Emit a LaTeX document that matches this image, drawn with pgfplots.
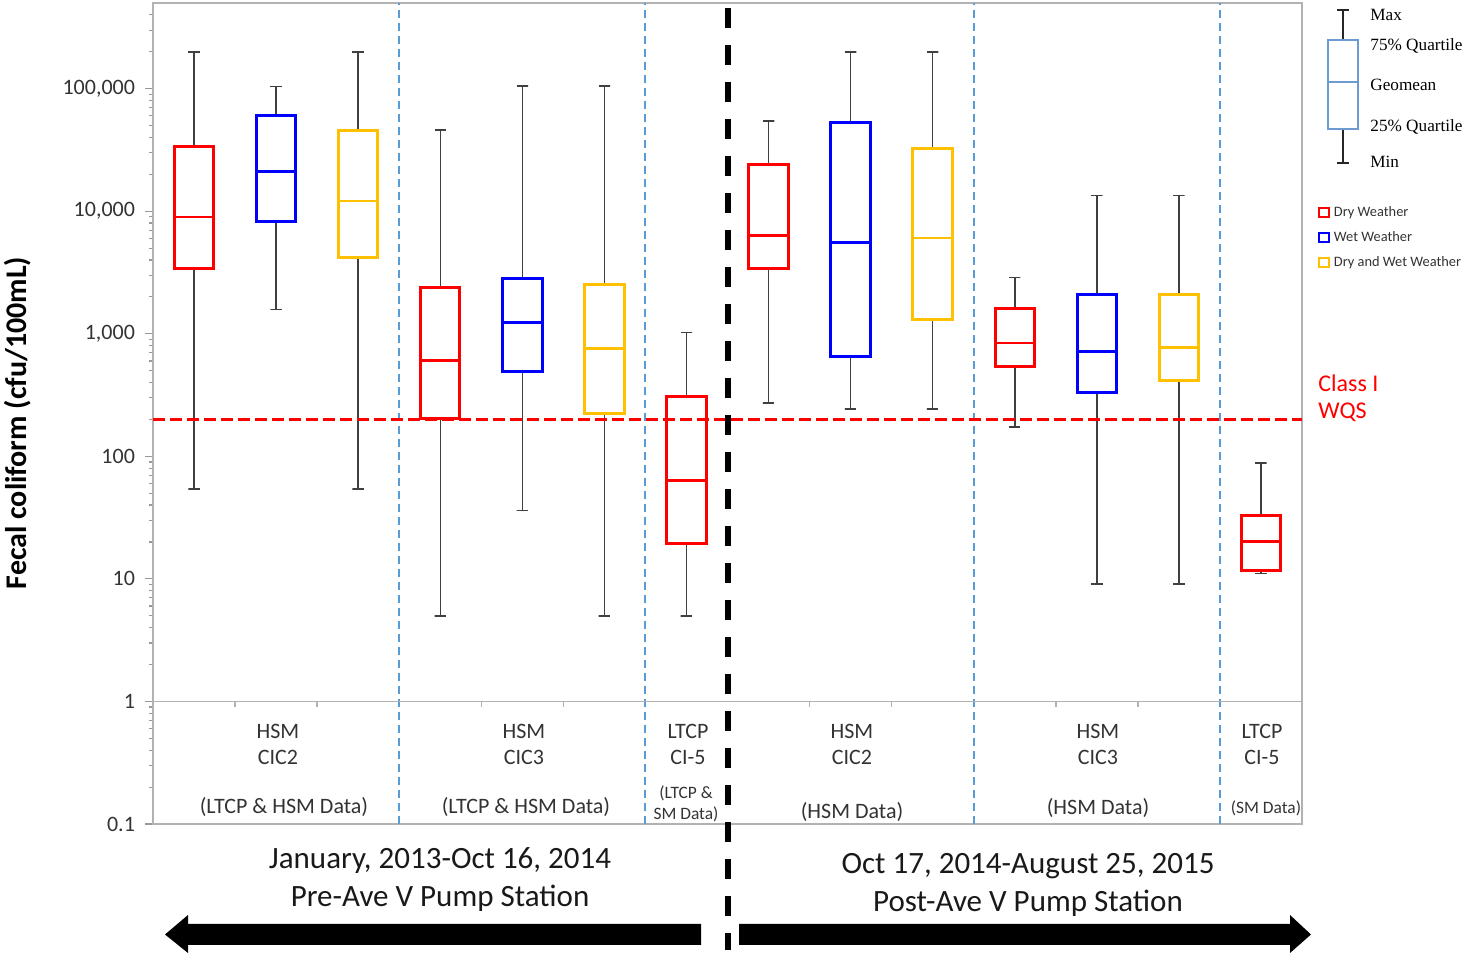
\documentclass[border=0pt]{standalone}
\usepackage{pgfplots}
\pgfplotsset{compat=1.18}
\usepackage{fontspec}
\setmainfont{Carlito}
\newfontfamily\serif{Liberation Serif}
\definecolor{cRed}{HTML}{FF0000}
\definecolor{cBlue}{HTML}{0000FF}
\definecolor{cGold}{HTML}{FFC000}
\definecolor{sepBlue}{HTML}{5B9BD5}
\definecolor{glyphBlue}{HTML}{6C9BD2}
\definecolor{txt}{HTML}{333333}
\pgfplotsset{
  whisk/.style={black!75, line width=0.75pt, mark=none},
  boxline/.style={line width=1.5pt, line cap=rect, mark=none},
}
% #1 colour, #2 position, #3 min, #4 Q1, #5 geomean, #6 Q3, #7 max
\newcommand{\bx}[7]{%
  \pgfmathsetmacro\bxL{#2-0.24}\pgfmathsetmacro\bxR{#2+0.24}%
  \pgfmathsetmacro\cpL{#2-0.07}\pgfmathsetmacro\cpR{#2+0.07}%
  \edef\tmp{%
    \noexpand\addplot[forget plot, whisk] coordinates {(\cpL,#7) (\cpR,#7) (#2,#7) (#2,#6)};
    \noexpand\addplot[forget plot, whisk] coordinates {(#2,#4) (#2,#3) (\cpL,#3) (\cpR,#3)};
    \noexpand\addplot[forget plot, boxline, draw=#1] coordinates {(\bxL,#4) (\bxR,#4) (\bxR,#6) (\bxL,#6) (\bxL,#4)};
    \noexpand\addplot[forget plot, draw=#1, line width=1.3pt, mark=none] coordinates {(\bxL,#5) (\bxR,#5)};
  }\tmp}
\begin{document}
\begin{tikzpicture}
\path[use as bounding box] (0pt,0pt) rectangle (732pt,477pt);
\begin{axis}[
  at={(76.5pt,65pt)}, anchor=south west, scale only axis,
  width=574.5pt, height=410.5pt,
  ymode=log, ymin=0.1, ymax=5e5, xmin=-0.5, xmax=13.5,
  xtick=\empty, ytick pos=left,
  ytick={0.1,1,10,100,1000,10000,100000},
  yticklabels={0.1,1,10,100,{1,000},{10,000},{100,000}},
  minor ytick={0.2,0.3,0.4,0.5,0.6,0.7,0.8,0.9,2,3,4,5,6,7,8,9,20,30,40,50,60,70,80,90,200,300,400,500,600,700,800,900,2000,3000,4000,5000,6000,7000,8000,9000,20000,30000,40000,50000,60000,70000,80000,90000,200000,300000,400000},
  tick align=outside, major tick length=4pt, minor tick length=2pt,
  tick style={black!40, line width=0.6pt},
  axis line style={black!30, line width=0.75pt},
  yticklabel style={font=\fontsize{11}{13}\selectfont, text=txt, xshift=-1.5pt},
  /pgf/number format/assume math mode=true,
  clip=false,
  legend cell align=left,
  legend style={at={(axis description cs:1.014,0.758)}, anchor=north west, draw=none, fill=none,
    font=\fontsize{7.2}{8}\selectfont, text=txt, row sep=2pt, inner sep=0pt},
]
% separators
\foreach \s in {2.5,5.5,9.5,12.5}{
  \edef\tmp{\noexpand\draw[sepBlue, line width=1pt, dash pattern=on 4pt off 2.5pt] (axis cs:\s,0.1) -- (axis cs:\s,5e5);}\tmp
}
% line at 1 with category ticks
\draw[black!30, line width=0.75pt] (axis cs:-0.5,1) -- (axis cs:13.5,1);
\foreach \s in {0.5,1.5,3.5,4.5,7.5,8.5,10.5,11.5}{
  \edef\tmp{\noexpand\draw[black!30, line width=0.75pt] (axis cs:\s,1) -- ([yshift=-3pt]axis cs:\s,1);}\tmp
}
% legend
\addlegendimage{legend image code/.code={\draw[cRed, line width=0.9pt, fill=white] (0pt,-2.4pt) rectangle (4.8pt,2.4pt);}}
\addlegendentry{Dry Weather}
\addlegendimage{legend image code/.code={\draw[cBlue, line width=0.9pt, fill=white] (0pt,-2.4pt) rectangle (4.8pt,2.4pt);}}
\addlegendentry{Wet Weather}
\addlegendimage{legend image code/.code={\draw[cGold, line width=0.9pt, fill=white] (0pt,-2.4pt) rectangle (4.8pt,2.4pt);}}
\addlegendentry{Dry and Wet Weather}
% boxes: colour, pos, min, Q1, geomean, Q3, max
\bx{cRed}{0}{54}{3425}{9000}{34000}{200000}
\bx{cBlue}{1}{1585}{8180}{21100}{60000}{104000}
\bx{cGold}{2}{54}{4160}{12140}{45300}{200000}
\bx{cRed}{3}{5}{203}{608}{2382}{45800}
\bx{cBlue}{4}{36}{491}{1242}{2805}{104800}
\bx{cGold}{5}{5}{223}{757}{2536}{105000}
\bx{cRed}{6}{5}{19.4}{63.7}{305}{1029}
\bx{cRed}{7}{272}{3425}{6370}{24200}{54600}
\bx{cBlue}{8}{243}{655}{5585}{53000}{200000}
\bx{cGold}{9}{243}{1313}{6055}{32500}{200000}
\bx{cRed}{10}{173}{543}{841}{1595}{2876}
\bx{cBlue}{11}{9.07}{329}{716}{2100}{13430}
\bx{cGold}{12}{9.07}{412}{771}{2100}{13430}
\bx{cRed}{13}{11.1}{11.7}{20.1}{32.6}{88}
% Class I WQS
\addplot[forget plot, cRed, line width=1.5pt, dash pattern=on 6pt off 2.5pt, mark=none] coordinates {(-0.5,200) (13.5,200)};
\end{axis}
\begin{scope}[x=0.5pt, y=-0.5pt, shift={(0pt,477pt)}]
% y label
\node[rotate=90, font=\bfseries\fontsize{15}{18}\selectfont, text=black] at (18,423) {Fecal coliform (cfu/100mL)};
% category labels
\begin{scope}[every node/.style={font=\fontsize{11}{13}\selectfont, text=txt}]
\node at (278,731) {HSM}; \node at (278,757) {CIC2}; \node at (284,807) {(LTCP \& HSM Data)};
\node at (524,731) {HSM}; \node at (524,757) {CIC3}; \node at (526,807) {(LTCP \& HSM Data)};
\node at (688,731) {LTCP}; \node at (688,757) {CI-5};
\node[font=\fontsize{8.7}{10}\selectfont] at (686,793) {(LTCP \&};
\node[font=\fontsize{8.7}{10}\selectfont] at (686,814) {SM Data)};
\node at (852,731) {HSM}; \node at (852,757) {CIC2}; \node at (852,812) {(HSM Data)};
\node at (1098,731) {HSM}; \node at (1098,757) {CIC3}; \node at (1098,808) {(HSM Data)};
\node at (1262,731) {LTCP}; \node at (1262,757) {CI-5};
\node[font=\fontsize{8.7}{10}\selectfont] at (1266,808) {(SM Data)};
\end{scope}
% Class I WQS label
\node[anchor=west, text=cRed, font=\fontsize{12}{14}\selectfont, inner sep=0pt] at (1318,383) {Class I};
\node[anchor=west, text=cRed, font=\fontsize{12}{14}\selectfont, inner sep=0pt] at (1318,412) {WQS};
% box glyph legend
\draw[black!85, line width=1.2pt] (1343,10) -- (1343,40) (1337,10) -- (1349,10);
\draw[black!85, line width=1.2pt] (1343,129) -- (1343,163) (1337,163) -- (1349,163);
\draw[glyphBlue, line width=1pt] (1328,40) rectangle (1358,129) (1328,82) -- (1358,82);
\begin{scope}[every node/.style={anchor=west, inner sep=0pt, font=\serif\fontsize{8.6}{10}\selectfont, text=black}]
\node at (1370,15) {Max};
\node at (1370,46) {75\% Quartile};
\node at (1370,85) {Geomean};
\node at (1370,127) {25\% Quartile};
\node at (1370,162) {Min};
\end{scope}
% period text
\begin{scope}[every node/.style={font=\fontsize{15.5}{18}\selectfont, text=black!90}]
\node at (440,861) {January, 2013-Oct 16, 2014};
\node at (440,898) {Pre-Ave V Pump Station};
\node at (1028,866) {Oct 17, 2014-August 25, 2015};
\node at (1028,903) {Post-Ave V Pump Station};
\end{scope}
% arrows
\fill[black] (701,924) -- (188,924) -- (188,915) -- (165,934.5) -- (188,953) -- (188,945) -- (701,945) -- cycle;
\fill[black] (739,924) -- (1290,924) -- (1290,915) -- (1311,934.5) -- (1290,953) -- (1290,945) -- (739,945) -- cycle;
% pre/post divider
\draw[black, line width=3pt, dash pattern=on 10pt off 8.5pt] (728,8) -- (728,950);
\end{scope}
\end{tikzpicture}
\end{document}
